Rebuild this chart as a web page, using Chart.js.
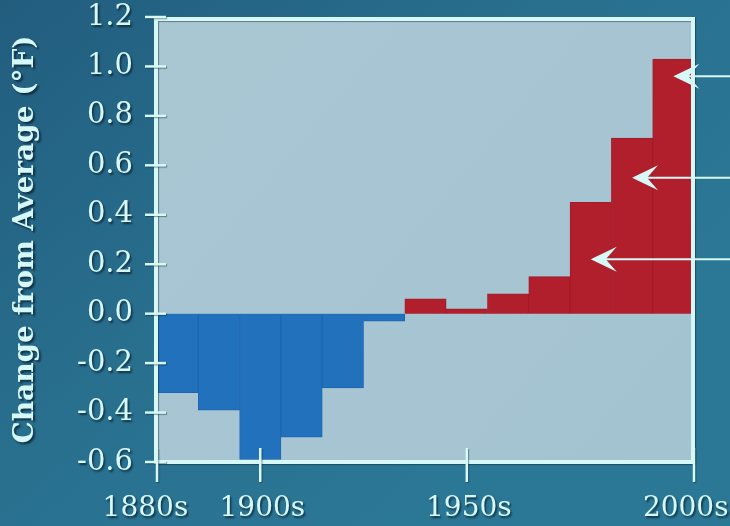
<!DOCTYPE html>
<html>
<head>
<meta charset="utf-8">
<script src="https://cdn.jsdelivr.net/npm/chart.js@4/dist/chart.umd.min.js"></script>
<style>
  html, body { margin: 0; padding: 0; background: #245f80; }
  #wrap { width: 730px; height: 526px; }
</style>
</head>
<body>
<div id="wrap"><canvas id="c" width="730" height="526"></canvas></div>
<script>
// Decadal temperature anomalies (°F), 1880s to 2000s
const decades = ['1880s','1890s','1900s','1910s','1920s','1930s','1940s','1950s','1960s','1970s','1980s','1990s','2000s'];
const anomalies = [-0.32, -0.39, -0.59, -0.50, -0.30, -0.03, 0.06, 0.02, 0.08, 0.15, 0.45, 0.71, 1.03];

// Tick marks along the decade axis (0 = start of the 1880s, 13 = end of the 2000s)
const xTickPositions = [0, 2.5, 7.5, 13];
// Where each decade label is centred (the end labels sit just inside the canvas)
const xLabelPositions = [-0.28, 2.55, 7.55, 12.8];
const xTickLabels = ['1880s', '1900s', '1950s', '2000s'];
const yTickValues = [-0.6, -0.4, -0.2, 0.0, 0.2, 0.4, 0.6, 0.8, 1.0, 1.2];

// Pointer arrows for the three most recent decades: bar index and level (°F)
const arrowBars = [12, 11, 10];
const arrowLevels = [0.96, 0.55, 0.22];

const LIGHT = '#d6f9f8';
const BLUE = '#2171bd';
const RED = '#b01f2b';

const points = anomalies.map((v, i) => ({ x: i + 0.5, y: v }));

const framePlugin = {
  id: 'frame',
  beforeDraw(chart) {
    const { ctx, width, height, chartArea: a } = chart;
    ctx.save();
    const g = ctx.createLinearGradient(0, 0, width * 0.6, height);
    g.addColorStop(0, '#225d7e');
    g.addColorStop(0.55, '#29708f');
    g.addColorStop(1, '#2b7896');
    ctx.fillStyle = g;
    ctx.fillRect(0, 0, width, height);
    const pg = ctx.createLinearGradient(a.left, a.top, a.right, a.bottom);
    pg.addColorStop(0, '#a9c6d3');
    pg.addColorStop(1, '#a4c3d1');
    ctx.fillStyle = pg;
    ctx.fillRect(a.left, a.top, a.right - a.left, a.bottom - a.top);
    ctx.restore();
    // soft drop shadow for the axis text
    ctx.shadowColor = 'rgba(10,30,45,0.75)';
    ctx.shadowOffsetX = 1.5;
    ctx.shadowOffsetY = 2;
    ctx.shadowBlur = 2;
  },
  beforeDatasetsDraw(chart) {
    const ctx = chart.ctx;
    ctx.shadowColor = 'rgba(0,0,0,0)';
    ctx.shadowOffsetX = 0;
    ctx.shadowOffsetY = 0;
    ctx.shadowBlur = 0;
  },
  afterDatasetsDraw(chart) {
    const { ctx, chartArea: a, scales } = chart;
    ctx.save();
    ctx.shadowColor = 'rgba(10,30,45,0.45)';
    ctx.shadowOffsetX = 1;
    ctx.shadowOffsetY = 1;
    ctx.shadowBlur = 1;
    ctx.strokeStyle = LIGHT;
    // plot frame
    ctx.lineWidth = 4;
    ctx.strokeRect(a.left - 1, a.top + 2, a.right - a.left, a.bottom - a.top - 2);
    // y ticks
    ctx.lineWidth = 2.5;
    yTickValues.forEach(v => {
      const y = scales.y.getPixelForValue(v);
      ctx.beginPath();
      ctx.moveTo(a.left - 12, y);
      ctx.lineTo(a.left + 9, y);
      ctx.stroke();
    });
    // x ticks
    xTickPositions.forEach(v => {
      const x = scales.x.getPixelForValue(v);
      ctx.beginPath();
      ctx.moveTo(x, a.bottom - 14);
      ctx.lineTo(x, a.bottom + 20);
      ctx.stroke();
    });
    ctx.restore();

    // pointer arrows
    ctx.save();
    ctx.strokeStyle = LIGHT;
    ctx.fillStyle = LIGHT;
    ctx.lineWidth = 2;
    arrowBars.forEach((bi, k) => {
      const tipX = scales.x.getPixelForValue(bi + 0.5);
      const y = scales.y.getPixelForValue(arrowLevels[k]);
      ctx.beginPath();
      ctx.moveTo(tipX + 14, y);
      ctx.lineTo(chart.width + 2, y);
      ctx.stroke();
      ctx.beginPath();
      ctx.moveTo(tipX, y);
      ctx.lineTo(tipX + 26, y - 12.5);
      ctx.lineTo(tipX + 15, y);
      ctx.lineTo(tipX + 26, y + 12.5);
      ctx.closePath();
      ctx.fill();
    });
    ctx.restore();
  }
};

new Chart(document.getElementById('c'), {
  type: 'bar',
  data: {
    datasets: [{
      data: points,
      backgroundColor: anomalies.map(v => v < 0 ? BLUE : RED),
      borderColor: anomalies.map(v => v < 0 ? '#1e67ae' : '#a21c28'),
      borderWidth: 1,
      barPercentage: 1,
      categoryPercentage: 1,
      grouped: false
    }]
  },
  options: {
    responsive: false,
    animation: false,
    events: [],
    layout: { padding: { top: 17, right: 36, bottom: 0, left: 0 } },
    plugins: { legend: { display: false }, tooltip: { enabled: false } },
    scales: {
      x: {
        type: 'linear',
        min: 0,
        max: 13,
        offset: false,
        grid: { display: false, drawTicks: false, offset: false },
        border: { display: false },
        afterBuildTicks(scale) {
          scale.ticks = xLabelPositions.map(v => ({ value: v }));
        },
        afterFit(scale) {
          scale.height = 64;
          scale.paddingLeft = 0;
          scale.paddingRight = 0;
        },
        ticks: {
          autoSkip: false,
          maxRotation: 0,
          padding: 30,
          color: LIGHT,
          font: { family: 'DejaVu Serif', size: 28 },
          callback(v) {
            const i = xLabelPositions.indexOf(v);
            return i >= 0 ? xTickLabels[i] : '';
          }
        }
      },
      y: {
        min: -0.6,
        max: 1.2,
        grid: { display: false, drawTicks: false },
        border: { display: false },
        afterBuildTicks(scale) {
          scale.ticks = yTickValues.map(v => ({ value: v }));
        },
        afterFit(scale) {
          scale.width = 157;
          scale.paddingTop = 0;
          scale.paddingBottom = 0;
        },
        ticks: {
          padding: 24,
          color: LIGHT,
          font: { family: 'DejaVu Serif', size: 29 },
          callback: v => v.toFixed(1)
        },
        title: {
          display: true,
          text: 'Change from Average (°F)',
          color: LIGHT,
          padding: { top: 9, bottom: 0 },
          font: { family: 'DejaVu Serif', size: 28, weight: 'bold' }
        }
      }
    }
  },
  plugins: [framePlugin]
});
</script>
</body>
</html>
